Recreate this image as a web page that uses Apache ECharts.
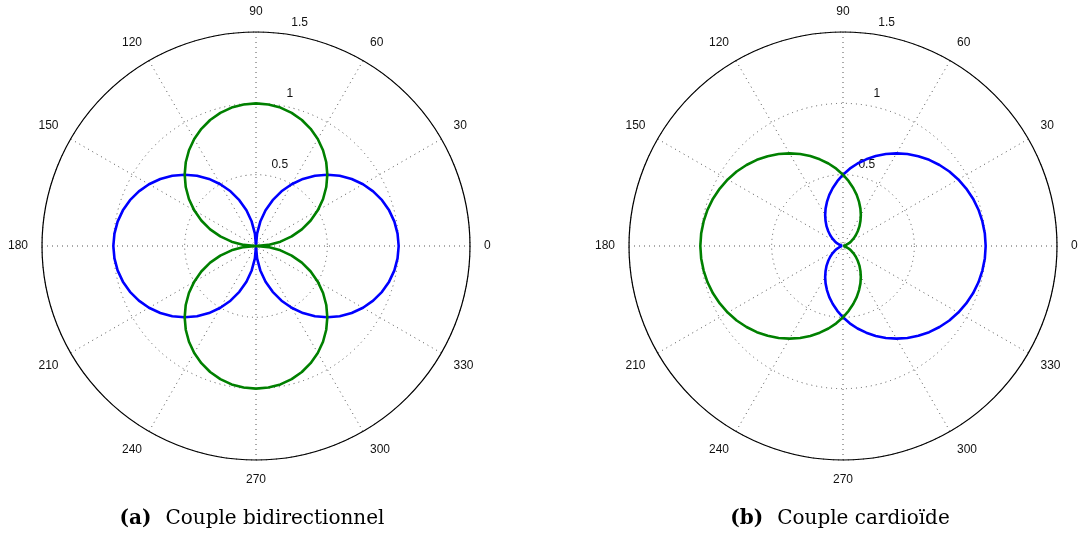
<!DOCTYPE html>
<html>
<head>
<meta charset="utf-8">
<script src="https://cdn.jsdelivr.net/npm/echarts@6/dist/echarts.min.js"></script>
<style>
html,body{margin:0;padding:0;background:#fff;}
#c{width:1090px;height:536px;}
</style>
</head>
<body>
<div id="c"></div>
<script>
// angles in degrees
const angles = [0,5,10,15,20,25,30,35,40,45,50,55,60,65,70,75,80,85,90,95,100,105,110,115,120,125,130,135,140,145,150,155,160,165,170,175,180,185,190,195,200,205,210,215,220,225,230,235,240,245,250,255,260,265,270,275,280,285,290,295,300,305,310,315,320,325,330,335,340,345,350,355,360];

// (a) Couple bidirectionnel
const bidirBlue = [1.000,0.996,0.985,0.966,0.940,0.906,0.866,0.819,0.766,0.707,0.643,0.574,0.500,0.423,0.342,0.259,0.174,0.087,0.000,
  0.087,0.174,0.259,0.342,0.423,0.500,0.574,0.643,0.707,0.766,0.819,0.866,0.906,0.940,0.966,0.985,0.996,1.000,
  0.996,0.985,0.966,0.940,0.906,0.866,0.819,0.766,0.707,0.643,0.574,0.500,0.423,0.342,0.259,0.174,0.087,0.000,
  0.087,0.174,0.259,0.342,0.423,0.500,0.574,0.643,0.707,0.766,0.819,0.866,0.906,0.940,0.966,0.985,0.996,1.000];
const bidirGreen = [0.000,0.087,0.174,0.259,0.342,0.423,0.500,0.574,0.643,0.707,0.766,0.819,0.866,0.906,0.940,0.966,0.985,0.996,1.000,
  0.996,0.985,0.966,0.940,0.906,0.866,0.819,0.766,0.707,0.643,0.574,0.500,0.423,0.342,0.259,0.174,0.087,0.000,
  0.087,0.174,0.259,0.342,0.423,0.500,0.574,0.643,0.707,0.766,0.819,0.866,0.906,0.940,0.966,0.985,0.996,1.000,
  0.996,0.985,0.966,0.940,0.906,0.866,0.819,0.766,0.707,0.643,0.574,0.500,0.423,0.342,0.259,0.174,0.087,0.000];

// (b) Couple cardioïde
const cardBlue = [1.000,0.998,0.992,0.983,0.970,0.953,0.933,0.910,0.883,0.854,0.821,0.787,0.750,0.711,0.671,0.629,0.587,0.544,0.500,
  0.456,0.413,0.371,0.329,0.289,0.250,0.213,0.179,0.146,0.117,0.090,0.067,0.047,0.030,0.017,0.008,0.002,0.000,
  0.002,0.008,0.017,0.030,0.047,0.067,0.090,0.117,0.146,0.179,0.213,0.250,0.289,0.329,0.371,0.413,0.456,0.500,
  0.544,0.587,0.629,0.671,0.711,0.750,0.787,0.821,0.854,0.883,0.910,0.933,0.953,0.970,0.983,0.992,0.998,1.000];
const cardGreen = [0.000,0.002,0.008,0.017,0.030,0.047,0.067,0.090,0.117,0.146,0.179,0.213,0.250,0.289,0.329,0.371,0.413,0.456,0.500,
  0.544,0.587,0.629,0.671,0.711,0.750,0.787,0.821,0.854,0.883,0.910,0.933,0.953,0.970,0.983,0.992,0.998,1.000,
  0.998,0.992,0.983,0.970,0.953,0.933,0.910,0.883,0.854,0.821,0.787,0.750,0.711,0.671,0.629,0.587,0.544,0.500,
  0.456,0.413,0.371,0.329,0.289,0.250,0.213,0.179,0.146,0.117,0.090,0.067,0.047,0.030,0.017,0.008,0.002,0.000];

const radiusTicks = [0, 0.5, 1, 1.5];
const captions = [['(a)', 'Couple bidirectionnel'], ['(b)', 'Couple cardioïde']];

const centers = [[256, 246], [843, 246]];
const captionX = [252, 840];
const R = 214;
const FONT = 'Liberation Sans, Arial, sans-serif';
const dotted = { color: '#555', width: 1, type: [1, 4] };

const polar = [], angleAxis = [], radiusAxis = [], series = [], graphic = [];
const pairs = [[bidirBlue, bidirGreen], [cardBlue, cardGreen]];

centers.forEach((c, i) => {
  // main polar
  polar.push({ center: c, radius: R });
  angleAxis.push({
    polarIndex: 2 * i, type: 'value', min: 0, max: 360, interval: 30,
    startAngle: 0, clockwise: false,
    axisLine: { show: true, lineStyle: { color: '#000', width: 1.2 } },
    axisTick: { show: false },
    axisLabel: { show: true, margin: 14, color: '#111', fontSize: 12, fontFamily: FONT },
    splitLine: { show: true, lineStyle: dotted }
  });
  radiusAxis.push({
    polarIndex: 2 * i, type: 'value', min: radiusTicks[0], max: radiusTicks[3], interval: 0.5,
    axisLine: { show: false }, axisTick: { show: false }, axisLabel: { show: false },
    splitLine: { show: true, lineStyle: dotted }
  });
  // label-only polar for radius labels
  polar.push({ center: c, radius: R });
  angleAxis.push({
    polarIndex: 2 * i + 1, type: 'value', min: 0, max: 360, startAngle: 82, clockwise: false,
    show: false
  });
  radiusAxis.push({
    polarIndex: 2 * i + 1, type: 'value', min: radiusTicks[0], max: radiusTicks[3], interval: 0.5,
    axisLine: { show: false }, axisTick: { show: false }, splitLine: { show: false },
    axisLabel: { show: true, showMinLabel: false, margin: -14, align: 'center', verticalAlign: 'bottom',
      lineHeight: 26, color: '#111', fontSize: 12, fontFamily: FONT }
  });
  const cols = ['#0000ff', '#008000'];
  pairs[i].forEach((arr, j) => {
    series.push({
      type: 'line', coordinateSystem: 'polar', polarIndex: 2 * i,
      data: arr.map((r, k) => [r, angles[k]]),
      showSymbol: false, smooth: false, animation: false,
      lineStyle: { color: cols[j], width: 2.6 }, z: 5 + j
    });
  });
  graphic.push({
    type: 'text', x: captionX[i], y: 529,
    style: {
      text: '{b|' + captions[i][0] + '}{s| }{n|' + captions[i][1] + '}',
      align: 'center', verticalAlign: 'bottom',
      rich: {
        b: { fontFamily: 'DejaVu Serif, serif', fontWeight: 'bold', fontSize: 20, fill: '#000', color: '#000' },
        s: { fontFamily: 'DejaVu Serif, serif', fontSize: 20, width: 14 },
        n: { fontFamily: 'DejaVu Serif, serif', fontSize: 20, fill: '#000', color: '#000' }
      }
    }
  });
});

const chart = echarts.init(document.getElementById('c'), null, { renderer: 'canvas' });
chart.setOption({
  backgroundColor: '#fff',
  animation: false,
  polar, angleAxis, radiusAxis, series, graphic
});
</script>
</body>
</html>
